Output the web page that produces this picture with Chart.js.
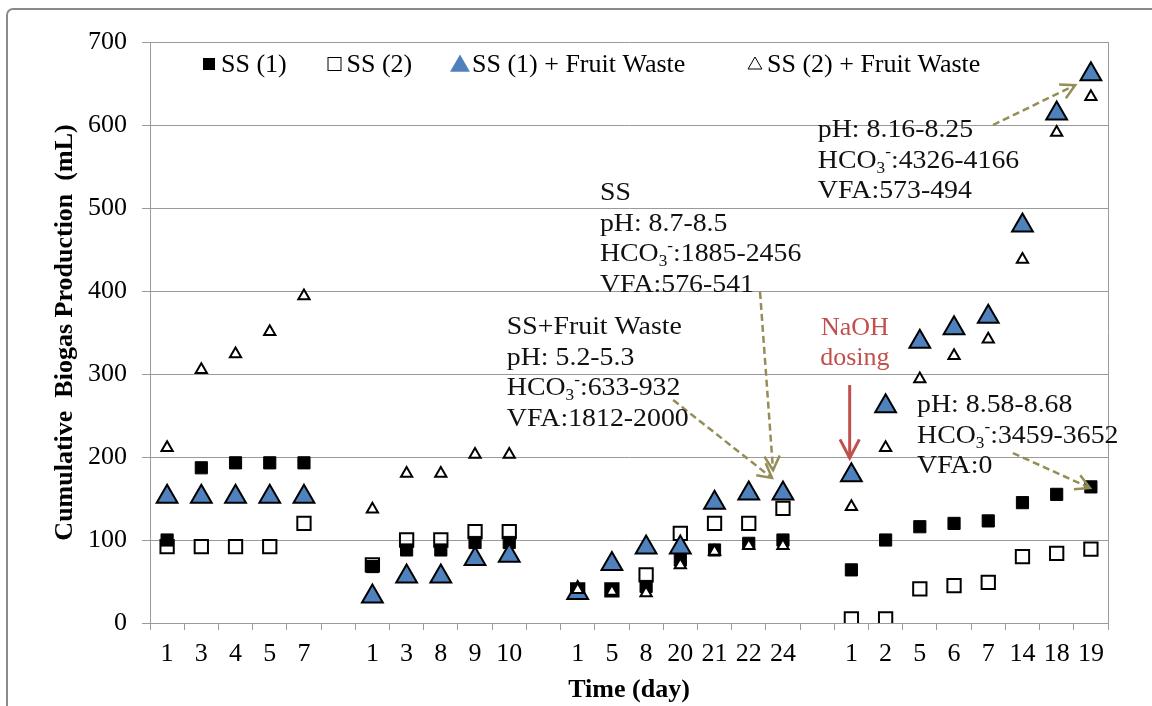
<!DOCTYPE html>
<html><head><meta charset="utf-8">
<script src="https://cdn.jsdelivr.net/npm/chart.js@4"></script>
<style>html,body{margin:0;padding:0;background:#fff}#wrap{width:1152px;height:706px}</style>
</head><body><div id="wrap"><canvas id="c" width="1152" height="706"></canvas></div>
<script>
// ---- data ----
const dayLabels = ['1','3','4','5','7','', '1','3','8','9','10','', '1','5','8','20','21','22','24','', '1','2','5','6','7','14','18','19'];
const yTicks = [0,100,200,300,400,500,600,700];
const seriesNames = ['SS (1)','SS (2)','SS (1) + Fruit Waste','SS (2) + Fruit Waste'];
const ss1   = [100,187,193,193,193, null, 68,88,88,97,97, null, 40,40,44,76,88,96,100, null, 64,100,116,120,123,145,155,164];
const ss2   = [92,92,92,92,120, null, 70,100,100,110,110, null, 40,40,58,108,120,120,138, null, 5,5,41,45,49,80,84,89];
const ss1fw = [152,152,152,152,152, null, 32,56,56,77,81, null, 36,71,91,91,145,156,156, null, 178,261,339,355,369,479,614,661];
const ss2fw = [211,305,324,351,394, null, 137,180,180,203,203, null, 40,38,36,70,86,93,93, null, 140,211,294,322,342,438,591,634];

const noteTexts = [
  ['SS+Fruit Waste','pH: 5.2-5.3','HCO_3^-:633-932','VFA:1812-2000'],
  ['SS','pH: 8.7-8.5','HCO_3^-:1885-2456','VFA:576-541'],
  ['pH: 8.16-8.25','HCO_3^-:4326-4166','VFA:573-494'],
  ['pH: 8.58-8.68','HCO_3^-:3459-3652','VFA:0']
];
const dosingText = ['NaOH','dosing'];

// ---- layout / style (anchors in data coords: [category index, value]) ----
const notePlaces = [
  {at:[9.93,348],  from:[14.79,268.7], to:[17.68,174.7]},
  {at:[12.65,509.6], from:[17.33,398.8], to:[17.71,184.3]},
  {at:[19.02,585.5], from:[24.14,600], to:[26.54,648]},
  {at:[21.92,254.2], from:[24.72,204.8], to:[26.97,162.7]}
];
const dosingPlace = {at:[20.1,347], from:[19.95,286.7], to:[19.95,198.8]};

const FONT = '"Liberation Serif", "Times New Roman", serif';
const GRID = '#9a9a9a';
const BLUE = '#4F81BD';
const OLIVE = '#958D58';
const RED = '#C0504D';
const NOTE_SIZE = 26;
const NOTE_STRETCH = 1.07;

function px(chart, p){
  return [chart.scales.x.getPixelForValue(p[0]), chart.scales.y.getPixelForValue(p[1])];
}
function drawRich(ctx, str, x, y, size){
  ctx.save();
  ctx.translate(x, y);
  ctx.scale(NOTE_STRETCH, 1);
  const parts = str.split(/(_.|\^.)/).filter(Boolean);
  let cx = 0;
  for (const p of parts){
    if (p[0]==='_' && p.length===2){
      ctx.font = `${size*0.62}px ${FONT}`;
      ctx.fillText(p[1], cx, size*0.2);
      cx += ctx.measureText(p[1]).width;
    } else if (p[0]==='^' && p.length===2){
      ctx.font = `${size*0.62}px ${FONT}`;
      ctx.fillText(p[1], cx, -size*0.4);
      cx += ctx.measureText(p[1]).width;
    } else {
      ctx.font = `${size}px ${FONT}`;
      ctx.fillText(p, cx, 0);
      cx += ctx.measureText(p).width;
    }
  }
  ctx.restore();
}
function arrow(ctx, x1,y1,x2,y2, color, width, dash, head, ang){
  ctx.save();
  ctx.strokeStyle = color; ctx.lineWidth = width; ctx.setLineDash(dash);
  ctx.beginPath(); ctx.moveTo(x1,y1); ctx.lineTo(x2,y2); ctx.stroke();
  ctx.setLineDash([]);
  const a = Math.atan2(y2-y1, x2-x1);
  ctx.beginPath();
  ctx.moveTo(x2 - head*Math.cos(a-ang), y2 - head*Math.sin(a-ang));
  ctx.lineTo(x2, y2);
  ctx.lineTo(x2 - head*Math.cos(a+ang), y2 - head*Math.sin(a+ang));
  ctx.stroke();
  ctx.restore();
}
function tri(ctx, x, y, r){
  ctx.beginPath();
  for (let k=0;k<3;k++){
    const a = k*2*Math.PI/3;
    const xx = x + Math.sin(a)*r, yy = y - Math.cos(a)*r;
    if (k===0) ctx.moveTo(xx,yy); else ctx.lineTo(xx,yy);
  }
  ctx.closePath();
}

const framePlugin = {
  id:'frame',
  beforeDraw(chart){
    const ctx = chart.ctx;
    ctx.save();
    ctx.fillStyle = '#fff'; ctx.fillRect(0,0,chart.width,chart.height);
    ctx.strokeStyle = '#8a8a8a'; ctx.lineWidth = 2;
    const x=7, y=9, r=6;
    ctx.beginPath();
    ctx.moveTo(x, chart.height+10);
    ctx.lineTo(x, y+r);
    ctx.arcTo(x, y, x+r, y, r);
    ctx.lineTo(chart.width+10, y);
    ctx.stroke();
    ctx.restore();
  },
  beforeDatasetsDraw(chart){
    const {ctx, chartArea:a} = chart;
    ctx.save(); ctx.strokeStyle = GRID; ctx.lineWidth = 1;
    ctx.beginPath(); ctx.moveTo(Math.round(a.right)+0.5, a.top); ctx.lineTo(Math.round(a.right)+0.5, a.bottom); ctx.stroke();
    ctx.restore();
  }
};

const legendCenters = [59, 184.5, 310, 605];
const legendPlugin = {
  id:'customLegend',
  afterDraw(chart){
    const {ctx, chartArea:a} = chart;
    const y = a.top + 22;
    ctx.save();
    ctx.textBaseline = 'middle';
    ctx.fillStyle = '#000';
    ctx.font = `26px ${FONT}`;
    seriesNames.forEach((name,i)=>{
      const cx = a.left + legendCenters[i];
      if (i===0){ ctx.fillStyle='#000'; ctx.fillRect(cx-6, y-6, 12, 12); }
      if (i===1){ ctx.fillStyle='#fff'; ctx.fillRect(cx-7,y-7,14,14); ctx.strokeStyle='#000'; ctx.lineWidth=1; ctx.strokeRect(cx-6.5,y-6.5,13,13); }
      if (i===2){ tri(ctx, cx, y+2, 11.5); ctx.fillStyle=BLUE; ctx.fill(); }
      if (i===3){ tri(ctx, cx, y+1, 8); ctx.fillStyle='#fff'; ctx.fill(); ctx.strokeStyle='#000'; ctx.lineWidth=1; ctx.stroke(); }
      ctx.fillStyle = '#000';
      ctx.font = `26px ${FONT}`;
      ctx.fillText(name, cx + 12, y + 1);
    });
    ctx.restore();
  }
};

const notesPlugin = {
  id:'notes',
  afterDatasetsDraw(chart){
    const ctx = chart.ctx;
    ctx.save();
    notePlaces.forEach(p=>{
      const [x1,y1] = px(chart,p.from), [x2,y2] = px(chart,p.to);
      arrow(ctx, x1,y1,x2,y2, OLIVE, 2.5, [7,4], 16, 0.5);
    });
    ctx.fillStyle = '#111';
    ctx.textBaseline = 'alphabetic';
    ctx.textAlign = 'left';
    noteTexts.forEach((lines,i)=>{
      const [x,y] = px(chart, notePlaces[i].at);
      lines.forEach((ln,k)=> drawRich(ctx, ln, x, y + k*30.5, NOTE_SIZE));
    });
    const [dx,dy] = px(chart, dosingPlace.at);
    ctx.fillStyle = '#fff';
    ctx.fillRect(dx-41, dy-24, 82, 54);
    ctx.fillStyle = RED;
    ctx.textAlign = 'center';
    ctx.font = `26px ${FONT}`;
    dosingText.forEach((t,k)=> ctx.fillText(t, dx, dy + k*30));
    const [rx1,ry1] = px(chart, dosingPlace.from), [rx2,ry2] = px(chart, dosingPlace.to);
    arrow(ctx, rx1,ry1,rx2,ry2, RED, 3, [], 21, 0.48);
    ctx.restore();
  }
};

const mk = (data, style, radius, fill, bw, order, i) => ({
  label: seriesNames[i], data, showLine:false, pointStyle:style,
  pointRadius:radius, pointHoverRadius:radius, pointBackgroundColor:fill,
  pointBorderColor:'#000', pointBorderWidth:bw, borderColor:'#000', backgroundColor:fill, order
});

new Chart(document.getElementById('c'), {
  type:'line',
  data:{
    labels: dayLabels,
    datasets:[
      mk(ss1,'rect',8.6,'#000',1,4,0),
      mk(ss2,'rect',9.4,'rgba(255,255,255,0)',2,3,1),
      mk(ss1fw,'triangle',12,BLUE,2,2,2),
      mk(ss2fw,'triangle',6.5,'#fff',2,1,3)
    ]
  },
  options:{
    responsive:false, animation:false, devicePixelRatio:1, events:[],
    layout:{padding:{left:0,right:44,top:42,bottom:0}},
    plugins:{legend:{display:false}, tooltip:{enabled:false}},
    scales:{
      x:{
        type:'category', offset:true,
        grid:{offset:true, drawOnChartArea:false, drawTicks:true, tickLength:7, color:GRID, lineWidth:1},
        border:{display:true, color:GRID},
        ticks:{autoSkip:false, maxRotation:0, minRotation:0, padding:9, color:'#000', font:{family:FONT, size:26}},
        title:{display:true, text:'Time (day)', color:'#000', font:{family:FONT, size:26, weight:'bold'}, padding:{top:0,bottom:0}},
        afterFit(s){ s.height = 83; }
      },
      y:{
        min:0, max:700,
        afterBuildTicks(s){ s.ticks = yTicks.map(v=>({value:v})); },
        ticks:{padding:15, color:'#000', font:{family:FONT, size:26}},
        grid:{color:GRID, tickLength:8, lineWidth:1},
        border:{display:true, color:GRID},
        title:{display:true, text:'Cumulative  Biogas Production  (mL)', color:'#000', font:{family:FONT, size:26, weight:'bold'}, padding:{top:50,bottom:0}},
        afterFit(s){ s.width = 150; }
      }
    }
  },
  plugins:[framePlugin, legendPlugin, notesPlugin]
});
</script></body></html>
